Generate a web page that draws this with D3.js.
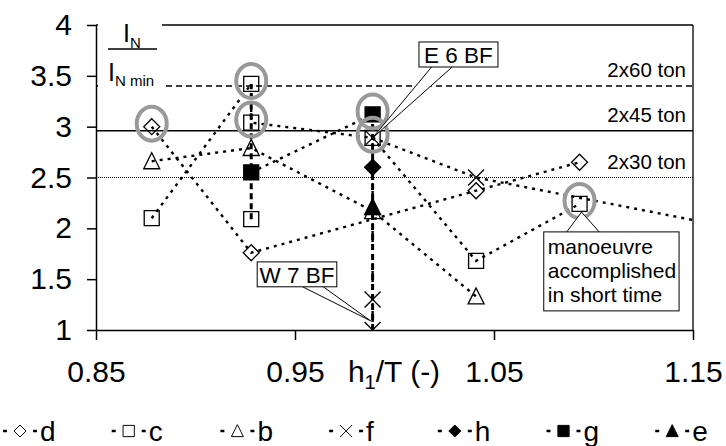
<!DOCTYPE html>
<html>
<head>
<meta charset="utf-8">
<script src="https://cdn.jsdelivr.net/npm/d3@7"></script>
<style>
  body { margin: 0; background: #fff; }
  svg { font-family: "Liberation Sans", Arial, sans-serif; }
</style>
</head>
<body>
<div id="chart"></div>
<script>
// ##### data #####
var seriesNames = ["d", "c", "b", "f", "h", "g", "e"];
var d_pts = [[0.878, 3.0], [0.928, 1.76], [1.041, 2.37], [1.093, 2.65]];
var c_pts = [[0.878, 2.1], [0.928, 3.42], [0.928, 3.04], [0.989, 2.89], [1.041, 1.68], [1.093, 2.24], null, [0.928, 2.09]];
var b_pts = [[0.878, 2.66], [0.928, 2.79], [0.989, 2.17], [1.041, 1.33]];
var f_pts = [[0.989, 1.0], [0.989, 1.3], [0.989, 2.89], [1.041, 2.5], [1.2, 1.89]];
var h_pts = [[0.989, 2.6]];
var g_pts = [[0.928, 2.55], [0.989, 3.12]];
var e_pts = [[0.989, 2.21]];

// vertical ranges (heavy dashed) at one h1/T
var ranges = [[0.928, 2.09, 3.42], [0.989, 1.0, 3.12]];

// limits lines
var limitVals = [3.4, 2.96, 2.5];
var limitNames = ["2x60 ton", "2x45 ton", "2x30 ton"];

// highlighted points (grey rings)
var rings = [[0.878, 3.0], [0.928, 3.42], [0.928, 3.04], [0.989, 3.12], [0.989, 2.89], [1.093, 2.24]];

var xTicks = [0.85, 0.95, 1.05, 1.15];
var yTicks = [1, 1.5, 2, 2.5, 3, 3.5, 4];

// callouts: text, box [x0, y0, x1, y1] in data units, target point, pointer base (fractions of box width)
var callouts = [
  {text: ["E 6 BF"], box: [1.0123, 3.833, 1.052, 3.587], target: [0.989, 2.89], base: [0.16, 0.42], side: "bottom"},
  {text: ["W 7 BF"], box: [0.931, 1.67, 0.971, 1.425], target: [0.988, 1.09], base: [0.57, 0.83], side: "bottom"},
  {text: ["manoeuvre", "accomplished", "in short time"], box: [1.075, 1.965, 1.143, 1.188], target: [1.094, 2.16], base: [0.17, 0.41], side: "top"}
];

var W = 726, H = 446;
var svg = d3.select("#chart").append("svg").attr("width", W).attr("height", H);

var x = d3.scaleLinear().domain([0.85, 1.15]).range([96, 693]);
var y = d3.scaleLinear().domain([1, 4]).range([330, 25]);

svg.append("clipPath").attr("id", "plot")
  .append("rect").attr("x", x(0.85)).attr("y", y(4)).attr("width", x(1.15) - x(0.85)).attr("height", y(1) - y(4));

// frame top and right
svg.append("line").attr("x1", x(0.85)).attr("x2", x(1.15)).attr("y1", y(4)).attr("y2", y(4))
  .attr("stroke", "#000").attr("stroke-width", 1.3);
svg.append("line").attr("x1", x(1.15)).attr("x2", x(1.15)).attr("y1", y(4)).attr("y2", y(1))
  .attr("stroke", "#000").attr("stroke-width", 1.3);

// limit lines
var limStyle = [{dash: "6,4", w: 1.3}, {dash: null, w: 1.5}, {dash: "1,1", w: 1}];
limitVals.forEach(function(v, i) {
  svg.append("line")
    .attr("x1", x(0.85)).attr("x2", x(1.15)).attr("y1", y(v)).attr("y2", y(v))
    .attr("stroke", "#000").attr("stroke-width", limStyle[i].w)
    .attr("stroke-dasharray", limStyle[i].dash);
  svg.append("text")
    .attr("x", x(1.15) - 7).attr("y", y(v) - 9)
    .attr("text-anchor", "end").style("font-size", "20.5px")
    .text(limitNames[i]);
});

// axes
var ax = svg.append("g").attr("transform", "translate(0," + y(1) + ")")
  .call(d3.axisBottom(x).tickValues(xTicks).tickSize(10).tickSizeOuter(0).tickPadding(21)
    .tickFormat(function(d) { return d.toFixed(2); }));
var ay = svg.append("g").attr("transform", "translate(" + x(0.85) + ",0)")
  .call(d3.axisLeft(y).tickValues(yTicks).tickSize(9).tickSizeOuter(0).tickPadding(15)
    .tickFormat(function(d) { return d; }));
[ax, ay].forEach(function(a) {
  a.selectAll("path, line").attr("stroke", "#000").attr("stroke-width", 1.5);
  a.selectAll("text").style("font-size", "30px").attr("fill", "#000")
    .style("font-family", "Liberation Sans, Arial, sans-serif");
});

// axis titles
var yl = svg.append("g");
yl.append("rect").attr("x", x(0.85) + 2).attr("y", y(4) - 4).attr("width", 64).attr("height", 68).attr("fill", "#fff");
var t1 = yl.append("text").attr("x", 123).attr("y", 42).style("font-size", "25px");
t1.append("tspan").text("I");
t1.append("tspan").attr("dy", 6).style("font-size", "15px").text("N");
yl.append("line").attr("x1", 108).attr("x2", 157).attr("y1", 49).attr("y2", 49).attr("stroke", "#000").attr("stroke-width", 1.3);
var t2 = yl.append("text").attr("x", 108).attr("y", 81).style("font-size", "25px");
t2.append("tspan").text("I");
t2.append("tspan").attr("dy", 5).style("font-size", "15px").text("N min");

var xl = svg.append("text").attr("x", 394).attr("y", 382).attr("text-anchor", "middle").style("font-size", "30px");
xl.append("tspan").text("h");
xl.append("tspan").attr("dy", 7).style("font-size", "20px").text("1");
xl.append("tspan").attr("dy", -7).text("/T (-)");

// markers
function markerPath(k) {
  if (k === "d" || k === "h") return "M0,-8L8,0L0,8L-8,0Z";
  if (k === "c" || k === "g") return "M-7.5,-7.5h15v15h-15Z";
  if (k === "b" || k === "e") return "M0,-8.5L8,7.5L-8,7.5Z";
  return "M-8,-8L8,8M-8,8L8,-8";
}
var filled = {h: true, g: true, e: true};
var allSeries = {d: d_pts, c: c_pts, b: b_pts, f: f_pts, h: h_pts, g: g_pts, e: e_pts};

var line = d3.line()
  .defined(function(p) { return p !== null; })
  .x(function(p) { return x(p[0]); })
  .y(function(p) { return y(p[1]); });

var plot = svg.append("g").attr("clip-path", "url(#plot)");

seriesNames.forEach(function(k) {
  plot.append("path").attr("d", line(allSeries[k]))
    .attr("fill", "none").attr("stroke", "#000").attr("stroke-width", 2.4)
    .attr("stroke-dasharray", "3,5");
});

ranges.forEach(function(r) {
  plot.append("line").attr("x1", x(r[0])).attr("x2", x(r[0])).attr("y1", y(r[1])).attr("y2", y(r[2]))
    .attr("stroke", "#000").attr("stroke-width", 3).attr("stroke-dasharray", "6,4");
});

seriesNames.forEach(function(k) {
  plot.selectAll(".m" + k).data(allSeries[k].filter(function(p) { return p !== null; }))
    .enter().append("path")
    .attr("transform", function(p) { return "translate(" + x(p[0]) + "," + y(p[1]) + ")"; })
    .attr("d", markerPath(k))
    .attr("fill", filled[k] ? "#000" : "none")
    .attr("stroke", "#000").attr("stroke-width", 1.3);
});

// grey rings
svg.selectAll(".ring").data(rings).enter().append("ellipse")
  .attr("cx", function(p) { return x(p[0]); })
  .attr("cy", function(p) { return y(p[1]) - 3; })
  .attr("rx", 15).attr("ry", 17)
  .attr("fill", "none").attr("stroke", "#999").attr("stroke-width", 4);

// callouts
callouts.forEach(function(c) {
  var x0 = x(c.box[0]), y0 = y(c.box[1]), x1 = x(c.box[2]), y1 = y(c.box[3]);
  var by = c.side === "bottom" ? y1 : y0;
  var bx0 = x0 + c.base[0] * (x1 - x0), bx1 = x0 + c.base[1] * (x1 - x0);
  var multi = c.text.length > 1;
  svg.append("path")
    .attr("d", "M" + bx0 + "," + by + "L" + x(c.target[0]) + "," + y(c.target[1]) + "L" + bx1 + "," + by)
    .attr("fill", "#fff").attr("stroke", "#000").attr("stroke-width", 1);
  svg.append("rect").attr("x", x0).attr("y", y0).attr("width", x1 - x0).attr("height", y1 - y0)
    .attr("fill", "#fff").attr("stroke", "#000").attr("stroke-width", 1);
  var tx = svg.append("text")
    .attr("text-anchor", multi ? "start" : "middle")
    .style("font-size", multi ? "21px" : "22.5px");
  c.text.forEach(function(s, i) {
    tx.append("tspan").attr("x", multi ? x0 + 4 : (x0 + x1) / 2)
      .attr("y", multi ? y0 + 22 + i * 24 : y0 + 21).text(s);
  });
});

// legend
var leg = svg.append("g").attr("transform", "translate(0,431)");
seriesNames.forEach(function(k, i) {
  var cx = 20 + i * 108.7;
  var g = leg.append("g").attr("transform", "translate(" + cx + ",0)");
  g.append("line").attr("x1", -17).attr("x2", 17).attr("y1", 0).attr("y2", 0)
    .attr("stroke", "#000").attr("stroke-width", 2.4).attr("stroke-dasharray", "4,26");
  g.append("path").attr("d", markerPath(k)).attr("transform", "scale(0.75)")
    .attr("fill", filled[k] ? "#000" : "none").attr("stroke", "#000").attr("stroke-width", 1.3);
  g.append("text").attr("x", 20).attr("y", 10).style("font-size", "28px").text(k);
});
</script>
</body>
</html>
